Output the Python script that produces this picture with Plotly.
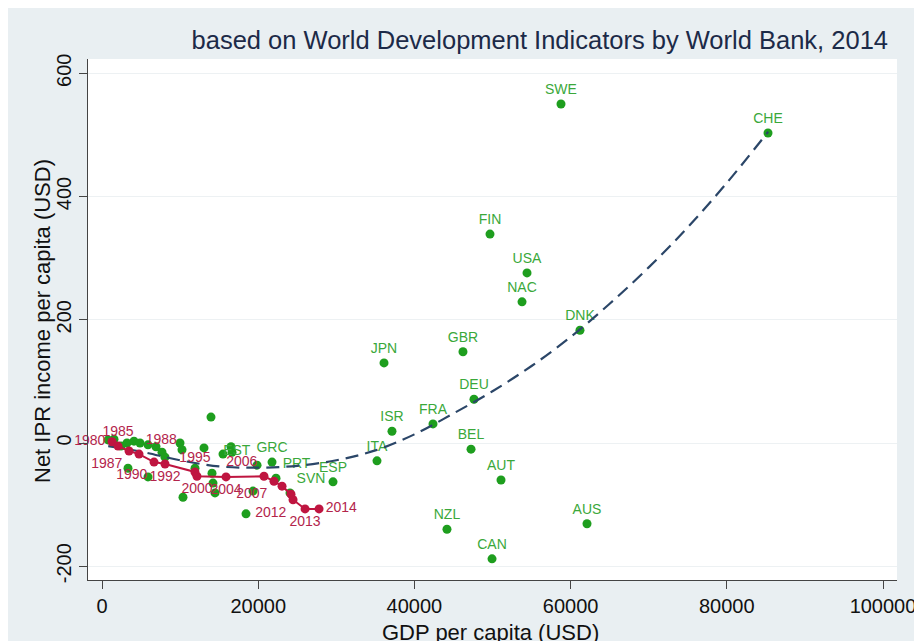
import plotly.graph_objects as go

# ---------------- data ----------------
country_codes = ["SWE", "CHE", "FIN", "USA", "NAC", "DNK", "GBR", "JPN", "DEU", "FRA",
                 "ISR", "BEL", "ITA", "AUT", "ESP", "NZL", "CAN", "AUS", "SVN", "PRT",
                 "GRC", "EST"]
country_gdp = [58770, 85275, 49680, 54420, 53780, 61200, 46220, 36110, 47630, 42380,
               37130, 47250, 35210, 51090, 29580, 44170, 49940, 62100, 24070, 22280,
               21770, 19850]
country_ipr = [550, 503, 339, 276, 229, 183, 148, 130, 71, 31,
               19, -10, -29, -60, -63, -140, -188, -131, -81, -57,
               -31, -36]

other_gdp = [768, 1536, 2433, 3200, 4097, 4865, 5890, 6914, 7682, 8067,
             9987, 10243, 13060, 3329, 5890, 11908, 14085, 14212, 14469, 10371,
             13956, 15493, 16517, 16645, 18438, 19334]
other_ipr = [5, 6, -5, 0, 3, 0, -3, -6, -15, -23,
             0, -11, -8, -41, -55, -41, -49, -65, -81, -88,
             42, -18, -6, -15, -115, -78]

korea_year_labels = ["1980", "1985", "1987", "1988", "1990", "1992", "1995", "2000",
                     "2004", "2006", "2007", "", "", "2012", "2013", "2014"]
korea_gdp = [1280, 2050, 3460, 4740, 6660, 8070, 11900, 12160,
             15880, 20740, 22020, 23050, 24200, 24460, 26000, 27790]
korea_ipr = [2, -5, -13, -18, -31, -34, -47, -54,
             -55, -54, -62, -70, -83, -92, -107, -107]

fit_gdp = [800, 5000, 10000, 15000, 20000, 25000, 30000, 35000, 40000, 45000,
           50000, 55000, 60000, 65000, 70000, 75000, 80000, 85300]
fit_ipr = [-5, -14, -28, -38, -40, -37, -28, -12, 14, 48,
           84, 125, 172, 226, 285, 350, 422, 505]

x_ticks = [0, 20000, 40000, 60000, 80000, 100000]
y_ticks = [-200, 0, 200, 400, 600]

title_text = "based on World Development Indicators by World Bank, 2014"
x_title = "GDP per capita (USD)"
y_title = "Net IPR income per capita (USD)"

# ---------------- styles ----------------
GREEN = "#1e9e1e"
GREEN_TXT = "#3aa83a"
RED = "#bf1540"
RED_TXT = "#b3244b"
NAVY = "#2b4668"
BG = "#e9eff2"
FONT = "Liberation Sans, Arial, sans-serif"

country_pos_override = {"SVN": "top right", "PRT": "top right", "EST": "top left"}
country_textpos = [country_pos_override.get(c, "top center") for c in country_codes]

korea_pos_map = {"1980": "middle left", "1985": "top center", "1987": "bottom left",
                 "1988": "top right", "1990": "bottom left", "1992": "bottom center",
                 "1995": "top center", "2000": "bottom center", "2004": "bottom center",
                 "2006": "top left", "2007": "bottom left", "2012": "bottom left",
                 "2013": "bottom center", "2014": "middle right"}
korea_textpos = [korea_pos_map.get(y, "top center") for y in korea_year_labels]

fig = go.Figure()

fig.add_trace(go.Scatter(
    x=other_gdp, y=other_ipr, mode="markers",
    marker=dict(color=GREEN, size=9, line=dict(width=0)),
    showlegend=False, hoverinfo="x+y"))

fig.add_trace(go.Scatter(
    x=country_gdp, y=country_ipr, mode="markers+text",
    text=country_codes, textposition=country_textpos,
    textfont=dict(family=FONT, size=14, color=GREEN_TXT),
    marker=dict(color=GREEN, size=9, line=dict(width=0)),
    showlegend=False, cliponaxis=False))

fig.add_trace(go.Scatter(
    x=fit_gdp, y=fit_ipr, mode="lines",
    line=dict(color=NAVY, width=2.2, dash="13px,7px", shape="spline", smoothing=1.0),
    showlegend=False, hoverinfo="skip"))

fig.add_trace(go.Scatter(
    x=korea_gdp, y=korea_ipr, mode="lines+markers+text",
    text=korea_year_labels, textposition=korea_textpos,
    textfont=dict(family=FONT, size=14, color=RED_TXT),
    line=dict(color=RED, width=2),
    marker=dict(color=RED, size=9, line=dict(width=0)),
    showlegend=False, cliponaxis=False))

W, H = 922, 641
L, R, T, B = 80, 33, 51, 69
pw, ph = W - L - R, H - T - B

fig.update_layout(
    width=W, height=H,
    margin=dict(l=L, r=R, t=T, b=B, pad=0, autoexpand=False),
    paper_bgcolor=BG, plot_bgcolor="white",
    font=dict(family=FONT, color="#111111"),
    title=dict(text=title_text, font=dict(family=FONT, size=25.5, color="#1c2a48"),
               x=880 / W, xanchor="right", xref="container",
               y=1 - 32 / H, yanchor="middle", yref="container"),
    xaxis=dict(range=[-1793, 101793], tickvals=x_ticks, ticktext=[str(v) for v in x_ticks],
               automargin=False,
               showgrid=False, zeroline=False, showline=True, linecolor="#444444", linewidth=1,
               ticks="outside", ticklen=8, tickwidth=1, tickcolor="#444444",
               tickfont=dict(family=FONT, size=20, color="#111111"),
               title=dict(text="")),
    yaxis=dict(range=[-222.3, 623.1], tickvals=y_ticks, ticktext=[str(v) for v in y_ticks],
               automargin=False,
               showgrid=True, gridcolor="#edf1f3", gridwidth=1,
               zeroline=False, showline=True, linecolor="#444444", linewidth=1,
               ticks="outside", ticklen=8, tickwidth=1, tickcolor="#444444",
               tickangle=-90,
               tickfont=dict(family=FONT, size=20, color="#111111"),
               title=dict(text="")),
    annotations=[
        dict(text=x_title, xref="paper", yref="paper",
             x=(482 - L) / pw, y=-(624 - (T + ph)) / ph,
             xanchor="center", yanchor="middle", showarrow=False,
             font=dict(family=FONT, size=22, color="#111111")),
        dict(text=y_title, xref="paper", yref="paper", textangle=-90,
             x=(34 - L) / pw, y=1 - (313 - T) / ph,
             xanchor="center", yanchor="middle", showarrow=False,
             font=dict(family=FONT, size=22, color="#111111")),
    ],
)

fig.write_html("out.html")
